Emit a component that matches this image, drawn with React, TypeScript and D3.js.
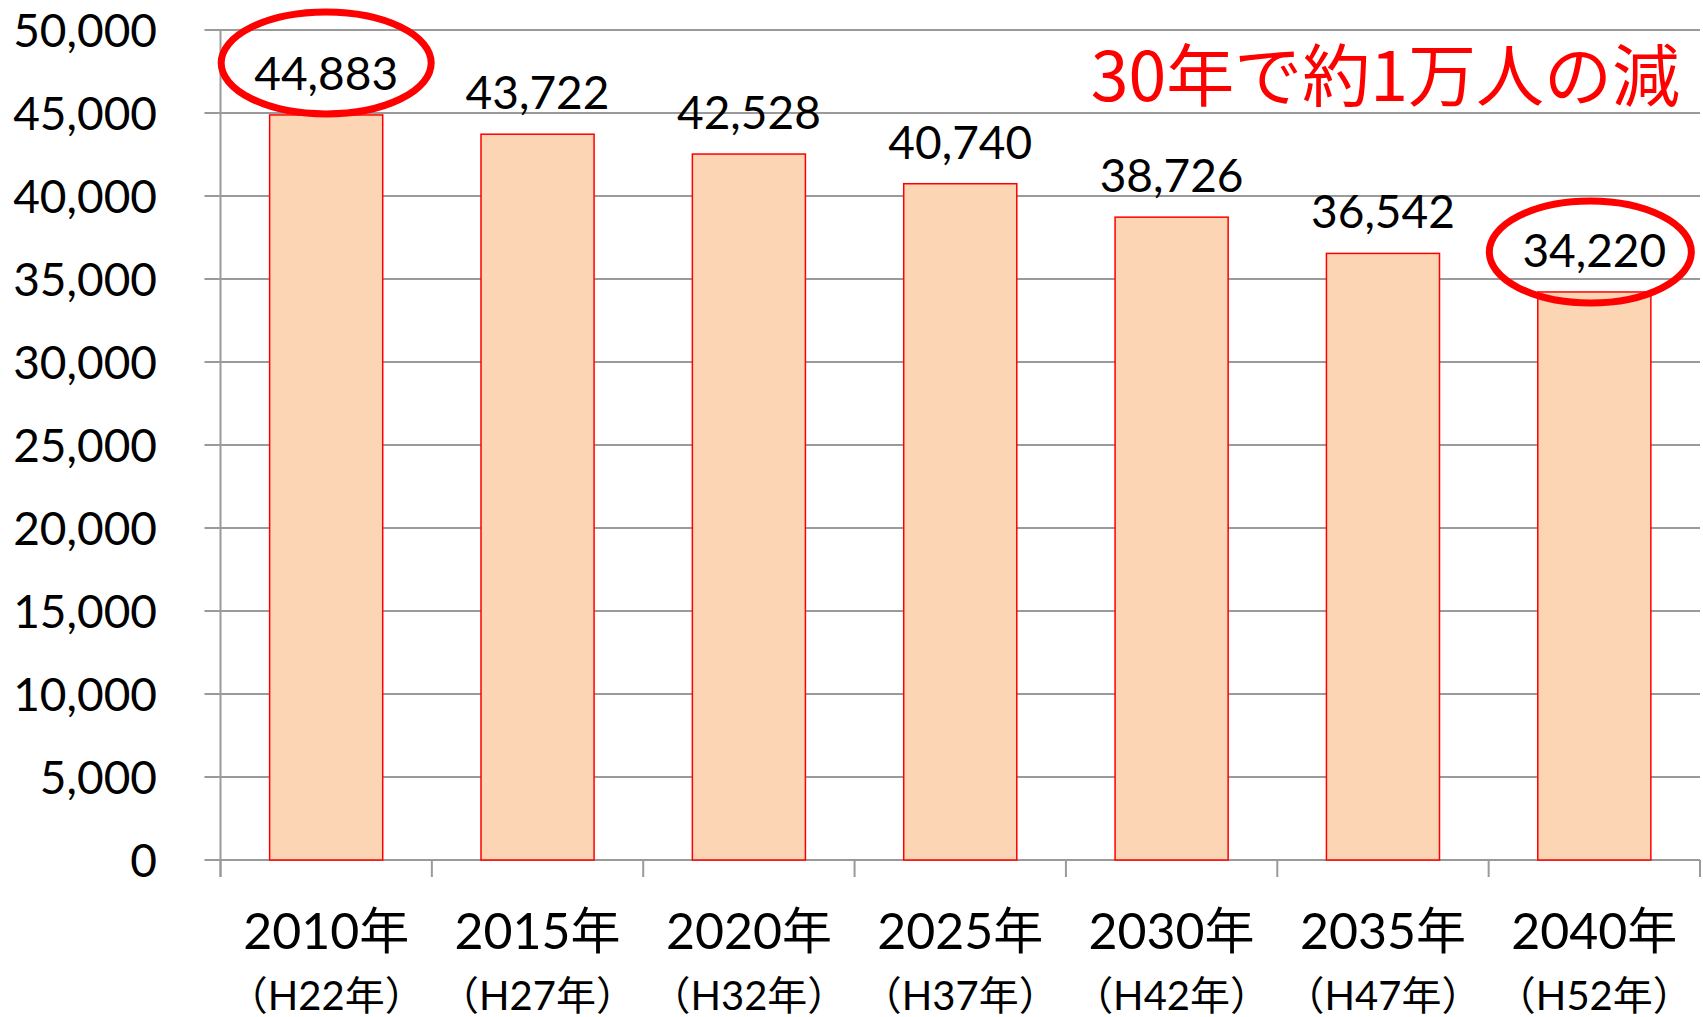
import React from "react";
import * as d3 from "d3";

const years = ["2010年", "2015年", "2020年", "2025年", "2030年", "2035年", "2040年"];
const heisei = ["（H22年）", "（H27年）", "（H32年）", "（H37年）", "（H42年）", "（H47年）", "（H52年）"];
const population = [44883, 43722, 42528, 40740, 38726, 36542, 34220];
const yTicks = [0, 5000, 10000, 15000, 20000, 25000, 30000, 35000, 40000, 45000, 50000];
const highlighted = ["2010年", "2040年"];
const headline = "30年で約1万人の減";

const W = 1703;
const H = 1017;
const left = 220.5;
const right = 1700;
const top = 30;
const bottom = 860;

const numFont = "Lato, 'Noto Sans CJK JP', sans-serif";
const jpFont = "'Noto Sans CJK JP', sans-serif";

export default function App() {
  const x = d3.scaleBand<string>().domain(years).range([left, right]).paddingInner(0.465).paddingOuter(0.2325);
  const y = d3.scaleLinear().domain([0, 50000]).range([bottom, top]);
  const fmt = d3.format(",");
  const bounds = years.map((c) => (x(c) as number) - (x.step() * x.paddingInner()) / 2);
  bounds.push(right);

  return (
    <svg width={W} height={H} style={{ position: "absolute", left: 0, top: 0, background: "#fff" }}>
      {yTicks.map((t) => (
        <line key={t} x1={left - 16} x2={right} y1={y(t)} y2={y(t)} stroke="#9a9a9a" strokeWidth={2} />
      ))}
      <line x1={left} x2={left} y1={top} y2={bottom + 17} stroke="#9a9a9a" strokeWidth={2} />
      {bounds.map((b, i) => (
        <line key={i} x1={b} x2={b} y1={bottom} y2={bottom + 17} stroke="#9a9a9a" strokeWidth={2} />
      ))}
      {yTicks.map((t) => (
        <text key={t} x={157} y={y(t)} dy="0.36em" textAnchor="end" fontFamily={numFont} fontSize={46} fill="#000">
          {fmt(t)}
        </text>
      ))}
      {years.map((c, i) => (
        <rect
          key={c}
          x={x(c)}
          y={y(population[i])}
          width={x.bandwidth()}
          height={bottom - y(population[i])}
          fill="#FCD5B5"
          stroke="#FF0000"
          strokeWidth={1.5}
        />
      ))}
      {years.map((c, i) => (
        <text
          key={c}
          x={(x(c) as number) + x.bandwidth() / 2}
          y={y(population[i]) - 25}
          textAnchor="middle"
          fontFamily={numFont}
          fontSize={46}
          fill="#000"
        >
          {fmt(population[i])}
        </text>
      ))}
      {years.map((c, i) => (
        <g key={c}>
          <text x={(x(c) as number) + x.bandwidth() / 2} y={949} textAnchor="middle" fontFamily={numFont} fontSize={50} fill="#000">
            {c}
          </text>
          <text x={(x(c) as number) + x.bandwidth() / 2} y={1010} textAnchor="middle" fontFamily={numFont} fontSize={40} fill="#000">
            {heisei[i]}
          </text>
        </g>
      ))}
      {highlighted.map((c, k) => {
        const i = years.indexOf(c);
        const cx = (x(c) as number) + x.bandwidth() / 2 + (k === 0 ? 0 : -4);
        const cy = y(population[i]) - (k === 0 ? 52 : 40);
        return (
          <ellipse key={c} cx={cx} cy={cy} rx={k === 0 ? 105 : 101} ry={51} fill="none" stroke="#FF0000" strokeWidth={7} />
        );
      })}
      <text x={1680} y={101} textAnchor="end" fontFamily={jpFont} fontWeight={400} fontSize={68} fill="#FF0000">
        {headline}
      </text>
    </svg>
  );
}
